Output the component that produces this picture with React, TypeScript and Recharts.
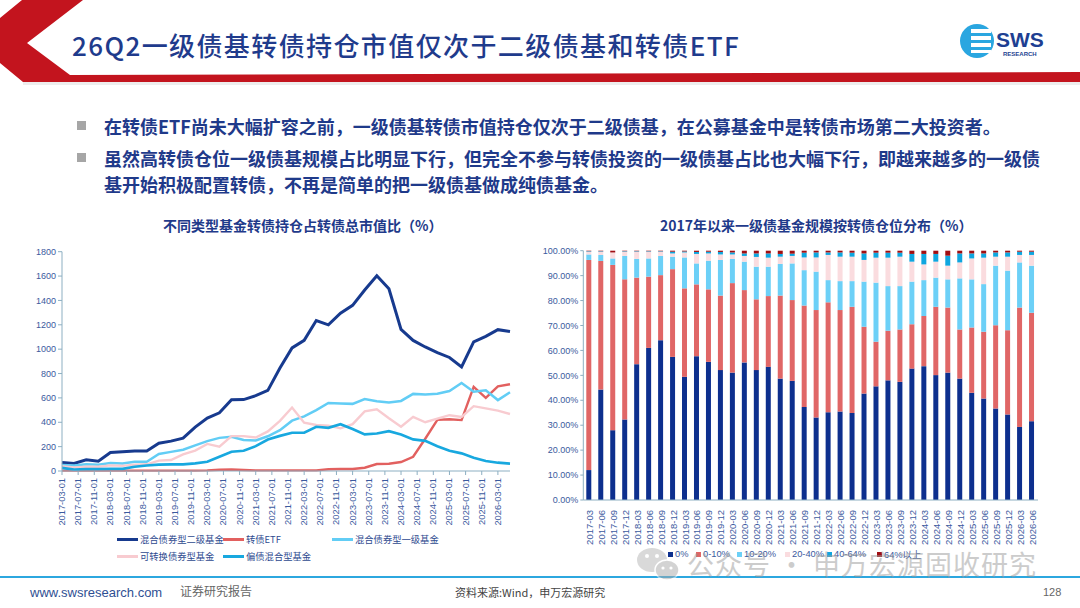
import React from "react"
import { Bar, BarChart, Line, LineChart, XAxis, YAxis } from "recharts"

// ---------- left chart: 不同类型基金转债持仓占转债总市值比 ----------
const quarters = [
  "2017-03", "2017-06", "2017-09", "2017-12",
  "2018-03", "2018-06", "2018-09", "2018-12",
  "2019-03", "2019-06", "2019-09", "2019-12",
  "2020-03", "2020-06", "2020-09", "2020-12",
  "2021-03", "2021-06", "2021-09", "2021-12",
  "2022-03", "2022-06", "2022-09", "2022-12",
  "2023-03", "2023-06", "2023-09", "2023-12",
  "2024-03", "2024-06", "2024-09", "2024-12",
  "2025-03", "2025-06", "2025-09", "2025-12",
  "2026-03", "2026-06",
]

const dateTicks = [
  "2017-03-01", "2017-07-01", "2017-11-01", "2018-03-01", "2018-07-01", "2018-11-01",
  "2019-03-01", "2019-07-01", "2019-11-01", "2020-03-01", "2020-07-01", "2020-11-01",
  "2021-03-01", "2021-07-01", "2021-11-01", "2022-03-01", "2022-07-01", "2022-11-01",
  "2023-03-01", "2023-07-01", "2023-11-01", "2024-03-01", "2024-07-01", "2024-11-01",
  "2025-03-01", "2025-07-01", "2025-11-01", "2026-03-01",
]

const erji = [70, 62, 92, 80, 152, 158, 164, 165, 228, 245, 270, 360, 435, 478, 584, 586, 618, 662, 845, 1010, 1072, 1235, 1200, 1295, 1360, 1486, 1602, 1496, 1163, 1072, 1018, 972, 932, 855, 1060, 1105, 1160, 1145]
const etf = [3, 3, 3, 3, 3, 3, 3, 3, 3, 3, 3, 3, 5, 10, 12, 8, 5, 5, 5, 5, 5, 5, 14, 16, 16, 27, 57, 60, 74, 117, 265, 420, 425, 418, 690, 600, 695, 712]
const yiji = [50, 45, 55, 52, 66, 62, 76, 76, 140, 157, 175, 210, 245, 272, 281, 254, 250, 285, 335, 413, 448, 500, 558, 554, 551, 590, 573, 562, 575, 633, 627, 635, 657, 722, 650, 662, 582, 646]
const kezhuan = [40, 30, 35, 35, 46, 42, 52, 55, 85, 90, 137, 168, 222, 200, 286, 286, 275, 325, 412, 521, 396, 378, 372, 350, 385, 490, 506, 433, 364, 445, 400, 430, 458, 444, 532, 514, 496, 468]
const pianzhai = [25, 12, 15, 15, 18, 18, 35, 45, 52, 55, 55, 63, 76, 117, 158, 166, 204, 259, 288, 314, 314, 363, 354, 384, 344, 300, 308, 327, 300, 259, 248, 204, 166, 145, 109, 82, 68, 60]

const yTicksLeft = [0, 200, 400, 600, 800, 1000, 1200, 1400, 1600, 1800]

// ---------- right chart: 一级债基金规模按转债仓位分布 ----------
const pct0 = [12.0, 44.3, 28.0, 32.3, 54.5, 61.0, 64.1, 57.4, 49.4, 57.7, 55.4, 52.1, 51.1, 55.2, 52.1, 53.4, 48.7, 47.8, 37.3, 33.1, 35.2, 35.5, 34.9, 42.7, 45.6, 48.0, 47.4, 52.7, 53.7, 50.1, 51.1, 48.7, 43.0, 40.7, 36.7, 34.3, 29.3, 31.6]
const pct0to10 = [84.3, 51.6, 66.3, 56.2, 34.7, 28.6, 26.1, 35.2, 35.5, 28.8, 29.1, 29.9, 35.9, 29.0, 28.4, 28.4, 33.3, 32.4, 40.7, 43.1, 44.1, 40.7, 42.6, 26.8, 17.9, 19.9, 21.0, 17.8, 20.1, 27.4, 26.1, 19.7, 26.2, 26.8, 33.4, 33.8, 47.9, 43.5]
const pct10to20 = [2.2, 2.4, 2.6, 9.4, 7.5, 7.3, 7.7, 5.0, 12.4, 8.4, 11.5, 14.3, 9.7, 11.4, 13.1, 11.8, 12.7, 14.7, 14.2, 15.4, 8.9, 11.6, 10.3, 18.1, 23.7, 17.9, 17.4, 17.1, 14.4, 11.7, 11.3, 20.5, 19.3, 19.1, 23.9, 23.9, 18.1, 18.9]
const pct20to40 = [1.1, 1.3, 2.4, 1.7, 2.9, 2.7, 1.7, 1.3, 2.0, 3.8, 2.9, 2.2, 1.8, 2.3, 3.9, 3.6, 2.9, 3.0, 5.1, 5.7, 10.1, 9.8, 9.8, 8.7, 10.0, 11.4, 11.8, 8.0, 6.3, 6.4, 5.5, 6.4, 8.4, 10.6, 3.6, 5.6, 3.0, 4.3]
const pct40to64 = [0.2, 0.2, 0.0, 0.2, 0.2, 0.2, 0.2, 0.7, 0.4, 0.8, 0.7, 1.0, 0.8, 1.0, 1.4, 1.7, 1.1, 0.9, 1.9, 2.0, 1.0, 1.7, 1.6, 2.6, 2.0, 2.0, 1.6, 3.1, 4.2, 3.1, 4.0, 3.6, 2.0, 1.7, 1.7, 1.7, 1.3, 1.3]
const pctAbove64 = [0.2, 0.2, 0.7, 0.2, 0.2, 0.2, 0.2, 0.4, 0.3, 0.5, 0.4, 0.5, 0.7, 1.1, 1.1, 1.1, 1.3, 1.2, 0.8, 0.7, 0.7, 0.7, 0.8, 1.1, 0.8, 0.8, 0.8, 1.3, 1.3, 1.3, 2.0, 1.1, 1.1, 1.1, 0.7, 0.7, 0.4, 0.4]

const yTicksRight = [0, 0.1, 0.2, 0.3, 0.4, 0.5, 0.6, 0.7, 0.8, 0.9, 1]

const monthIndex = (s: string) => {
  const [y, m] = s.split("-").map(Number)
  return (y - 2017) * 12 + (m - 3)
}

const lineData = quarters.map((q, i) => ({
  m: monthIndex(q),
  erji: erji[i],
  etf: etf[i],
  yiji: yiji[i],
  kezhuan: kezhuan[i],
  pianzhai: pianzhai[i],
}))
const dateTickMonths = dateTicks.map(monthIndex)

const barData = quarters.map((q, i) => ({
  q,
  p0: pct0[i],
  p1: pct0to10[i],
  p2: pct10to20[i],
  p3: pct20to40[i],
  p4: pct40to64[i],
  p5: pctAbove64[i],
}))

const AXIS = "#8DAFC2"
const TICK_TEXT = "#3B5A9E"
const NUM_FONT = "'Liberation Sans', Arial, 'Noto Sans CJK SC', sans-serif"
const CJK = "'Noto Sans CJK SC', 'Noto Sans', sans-serif"

const lineSeries = [
  { key: "erji", name: "混合债券型二级基金", color: "#173A8E", width: 3 },
  { key: "etf", name: "转债ETF", color: "#E2605F", width: 2.4 },
  { key: "yiji", name: "混合债券型一级基金", color: "#62CDF5", width: 2.5 },
  { key: "kezhuan", name: "可转换债券型基金", color: "#F8CBD0", width: 2.4 },
  { key: "pianzhai", name: "偏债混合型基金", color: "#18A8DF", width: 2.7 },
]

const barSeries = [
  { key: "p0", name: "0%", color: "#0D2F8E" },
  { key: "p1", name: "0-10%", color: "#E06666" },
  { key: "p2", name: "10-20%", color: "#6CD0F7" },
  { key: "p3", name: "20-40%", color: "#FADCDF" },
  { key: "p4", name: "40-64%", color: "#0FA6DF" },
  { key: "p5", name: "64%以上", color: "#A00E12" },
]

function DateTick({ x, y, payload }: any) {
  const label = dateTicks[dateTickMonths.indexOf(payload.value)]
  return (
    <g transform={`translate(${x},${y + 1})`}>
      <text transform="rotate(-90)" textAnchor="end" dominantBaseline="central" fontSize={9.3} fill={TICK_TEXT} fontFamily={NUM_FONT}>
        {label}
      </text>
    </g>
  )
}

function QuarterTick({ x, y, payload }: any) {
  return (
    <g transform={`translate(${x},${y + 2})`}>
      <text transform="rotate(-90)" textAnchor="end" dominantBaseline="central" fontSize={9.5} fill={TICK_TEXT} fontFamily={NUM_FONT}>
        {payload.value}
      </text>
    </g>
  )
}

function Decorations() {
  return (
    <svg width={1080} height={608} style={{ position: "absolute", left: 0, top: 0 }}>
      {/* header */}
      <polygon points="22,0 83,0 27,43 70,75 1080,72 1080,82 23,82 0,63 0,18" fill="#C3141E" />
      <rect x={23} y={82} width={1057} height={3} fill="#EDEDED" />
      {/* logo */}
      <circle cx={977} cy={41} r={17} fill="#2AA6E0" />
      <rect x={971} y={29} width={20} height={24} fill="#fff" />
      <rect x={971} y={33} width={20} height={3} fill="#2AA6E0" />
      <rect x={971} y={40} width={20} height={3} fill="#2AA6E0" />
      <rect x={971} y={47} width={20} height={3} fill="#2AA6E0" />
      <text x={996} y={47} fontSize={21} fontWeight={700} fill="#1E3F92" fontFamily={NUM_FONT}>SWS</text>
      <text x={1003} y={56} fontSize={6} fontWeight={700} fill="#1E3F92" fontFamily={NUM_FONT}>RESEARCH</text>
      {/* bullets */}
      <rect x={77} y={121} width={9} height={9} fill="#A6A6A6" />
      <rect x={77} y={153} width={9} height={9} fill="#A6A6A6" />
      {/* footer */}
      <line x1={0} y1={577} x2={1080} y2={577} stroke="#2CA7DF" strokeWidth={2} />
      <text x={30} y={597} fontSize={13} fill="#2F4F93" fontFamily={NUM_FONT}>www.swsresearch.com</text>
      <text x={180} y={596} fontSize={12} fill="#666" fontFamily={CJK}>证券研究报告</text>
      <text x={455} y={597} fontSize={11} fill="#444" fontFamily={CJK}>资料来源:Wind，申万宏源研究</text>
      <text x={1043} y={596} fontSize={11} fill="#666" fontFamily={NUM_FONT}>128</text>
    </svg>
  )
}

function Watermark() {
  return (
    <svg width={1080} height={608} style={{ position: "absolute", left: 0, top: 0, pointerEvents: "none" }} opacity={0.5}>
      <ellipse cx={652} cy={560} rx={15} ry={12} fill="#B5B5B5" />
      <ellipse cx={667} cy={570} rx={12} ry={10} fill="#A9A9A9" stroke="#fff" strokeWidth={1.5} />
      <circle cx={647} cy={556} r={2} fill="#fff" />
      <circle cx={657} cy={556} r={2} fill="#fff" />
      <circle cx={663} cy={568} r={1.6} fill="#fff" />
      <circle cx={671} cy={568} r={1.6} fill="#fff" />
      <text x={687} y={575} fontSize={27} fill="#9A9A9A" fontFamily={CJK} letterSpacing={1}>公众号 · 申万宏源固收研究</text>
    </svg>
  )
}

export default function App() {
  const bullet = { position: "absolute" as const, left: 104, fontSize: 18, fontWeight: 700, color: "#1F3A8A", fontFamily: CJK, whiteSpace: "nowrap" as const, lineHeight: "24px" }
  const chartTitle = { position: "absolute" as const, top: 215, fontSize: 14, fontWeight: 700, color: "#1F3A8A", fontFamily: CJK, whiteSpace: "nowrap" as const, lineHeight: "20px" }
  const legText = { fontSize: 9.3, color: "#2E4A8F", fontFamily: CJK, whiteSpace: "nowrap" as const }

  return (
    <div style={{ position: "absolute", left: 0, top: 0, width: 1080, height: 608, background: "#fff", overflow: "hidden", fontFamily: CJK }}>
      <Decorations />

      <div style={{ position: "absolute", left: 72, top: 27, fontSize: 26, letterSpacing: 1.4, fontWeight: 500, color: "#1F3B8C", whiteSpace: "nowrap", lineHeight: "36px" }}>
        26Q2一级债基转债持仓市值仅次于二级债基和转债ETF
      </div>

      <div style={{ ...bullet, top: 114 }}>在转债ETF尚未大幅扩容之前，一级债基转债市值持仓仅次于二级债基，在公募基金中是转债市场第二大投资者。</div>
      <div style={{ ...bullet, top: 146 }}>虽然高转债仓位一级债基规模占比明显下行，但完全不参与转债投资的一级债基占比也大幅下行，即越来越多的一级债</div>
      <div style={{ ...bullet, top: 172 }}>基开始积极配置转债，不再是简单的把一级债基做成纯债基金。</div>

      <div style={{ ...chartTitle, left: 163 }}>不同类型基金转债持仓占转债总市值比（%）</div>
      <div style={{ ...chartTitle, left: 660 }}>2017年以来一级债基金规模按转债仓位分布（%）</div>

      {/* left line chart */}
      <div style={{ position: "absolute", left: 0, top: 240 }}>
        <LineChart width={540} height={296} data={lineData} margin={{ top: 11.7, right: 30, bottom: 0, left: 0 }}>
          <XAxis
            dataKey="m"
            type="number"
            domain={[0, 111]}
            ticks={dateTickMonths}
            interval={0}
            height={65}
            stroke={AXIS}
            tickSize={4}
            tick={<DateTick />}
          />
          <YAxis
            width={62}
            domain={[0, 1800]}
            ticks={yTicksLeft}
            interval={0}
            stroke={AXIS}
            tickSize={4}
            tick={{ fontSize: 9, fill: TICK_TEXT, fontFamily: NUM_FONT }}
          />
          {lineSeries.map((s) => (
            <Line
              key={s.key}
              dataKey={s.key}
              name={s.name}
              type="linear"
              stroke={s.color}
              strokeWidth={s.width}
              dot={false}
              isAnimationActive={false}
            />
          ))}
        </LineChart>
      </div>

      {/* left legend */}
      {lineSeries.map((s, i) => {
        const pos = [
          { x: 117, y: 539 },
          { x: 223, y: 539 },
          { x: 332, y: 539 },
          { x: 117, y: 556 },
          { x: 223, y: 556 },
        ][i]
        return (
          <div key={s.key} style={{ position: "absolute", left: pos.x, top: pos.y - 8, height: 16, display: "flex", alignItems: "center" }}>
            <div style={{ width: 21, height: 3, background: s.color, marginRight: 2 }} />
            <span style={legText}>{s.name}</span>
          </div>
        )
      })}

      {/* right stacked bar chart */}
      <div style={{ position: "absolute", left: 540, top: 240 }}>
        <BarChart width={540} height={305} data={barData} stackOffset="expand" margin={{ top: 10.7, right: 42, bottom: 0, left: 0 }}>
          <XAxis dataKey="q" interval={0} height={45} stroke={AXIS} tickLine={false} tick={<QuarterTick />} />
          <YAxis
            width={43.3}
            domain={[0, 1]}
            ticks={yTicksRight}
            interval={0}
            stroke={AXIS}
            tickSize={3}
            tickFormatter={(v: number) => `${(v * 100).toFixed(2)}%`}
            tick={{ fontSize: 9, fill: TICK_TEXT, fontFamily: NUM_FONT }}
          />
          {barSeries.map((s) => (
            <Bar key={s.key} dataKey={s.key} name={s.name} stackId="s" fill={s.color} barSize={5} isAnimationActive={false} />
          ))}
        </BarChart>
      </div>

      {/* right legend */}
      {barSeries.map((s, i) => {
        const x = [668, 696, 737, 785, 827, 877][i]
        return (
          <div key={s.key} style={{ position: "absolute", left: x, top: 546, height: 16, display: "flex", alignItems: "center" }}>
            <div style={{ width: 5, height: 5, background: s.color, marginRight: 2 }} />
            <span style={{ fontSize: 9.3, color: TICK_TEXT, fontFamily: NUM_FONT, whiteSpace: "nowrap" }}>{s.name}</span>
          </div>
        )
      })}

      <Watermark />
    </div>
  )
}
